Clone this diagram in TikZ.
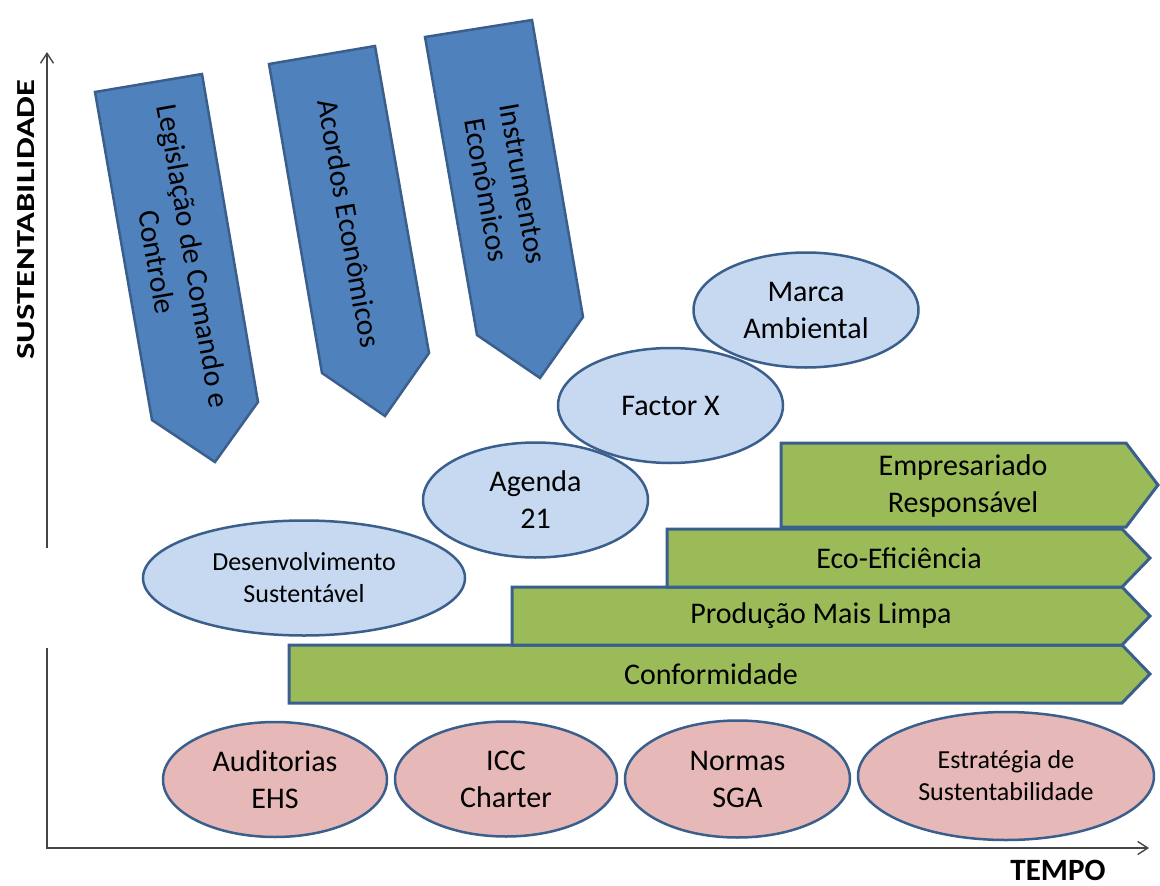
\documentclass[tikz,border=0pt]{standalone}
\usepackage{fontspec}
\setmainfont{Carlito}
\usetikzlibrary{shapes.geometric,arrows.meta}
\definecolor{edge}{HTML}{3A5F8C}
\definecolor{arrblue}{HTML}{4F81BD}
\definecolor{lblue}{HTML}{C6D9F1}
\definecolor{lpink}{HTML}{E6B9B8}
\definecolor{lgreen}{HTML}{9BBB59}
\definecolor{axisgray}{HTML}{454545}
\newcommand\fbig{\fontsize{30}{37}\selectfont}
\newcommand\fsml{\fontsize{26}{32}\selectfont}
\tikzset{
  ellbase/.style={ellipse, draw=edge, line width=2.5pt, inner sep=0pt, align=center, font=\fbig},
  blueell/.style={ellbase, fill=lblue},
  pinkell/.style={ellbase, fill=lpink},
  downarrow/.style={draw=edge, fill=arrblue, line width=2.5pt, line join=miter},
  greenbar/.style={draw=edge, fill=lgreen, line width=3pt, line join=miter},
  lbl/.style={font=\fbig, align=center, inner sep=0pt},
  axisline/.style={draw=axisgray, line width=1.6pt},
  axistip/.style={-{Straight Barb[length=10pt,width=13pt,line width=1.4pt]}},
}
\begin{document}
\begin{tikzpicture}[x=1pt,y=-1pt]
\useasboundingbox (0,0) rectangle (1160,886);

% axes
\coordinate (orig) at (47,849);
\coordinate (ylow) at (47,648);
\coordinate (yhigh) at (47,548);
\coordinate (ytop) at (47,52);
\coordinate (xstart) at (48,848);
\coordinate (xend) at (1149,848);
\draw[axisline] (orig) -- (ylow);
\draw[axisline,axistip] (yhigh) -- (ytop);
\draw[axisline,axistip] (xstart) -- (xend);
\node[font=\bfseries\fontsize{26}{30}\selectfont, rotate=90, inner sep=0pt] (ylabel) at (26.5,219.5) {\scalebox{1.33}[1]{SUSTENTABILIDADE}};
\node[font=\bfseries\fontsize{31}{36}\selectfont, inner sep=0pt] (xlabel) at (1058,870) {TEMPO};

% blue down arrows
\draw[downarrow] (95,92) -- (202,74) -- (258,402) -- (215,462) -- (152,420) -- cycle;
\draw[downarrow] (269,64) -- (375,46) -- (429,353) -- (385,416) -- (322,373) -- cycle;
\draw[downarrow] (425,37) -- (532,20) -- (583,317) -- (540,378) -- (477,335) -- cycle;
\node[lbl, rotate=-80] (leg) at (175.5,259) {Legislação de Comando e\\Controle};
\node[lbl, rotate=-80] (aco) at (349.5,223.5) {Acordos Econômicos};
\node[lbl, rotate=-80] (ins) at (504.5,187) {Instrumentos\\Econômicos};

% light blue ellipses
\node[blueell, minimum width=225pt, minimum height=115pt] (marca) at (806,310) {Marca\\Ambiental};
\node[blueell, minimum width=225pt, minimum height=115pt] (factor) at (670.5,405.5) {Factor X};
\node[blueell, minimum width=225pt, minimum height=115pt] (agenda) at (535.5,500) {Agenda\\21};
\node[blueell, minimum width=322pt, minimum height=115pt, font=\fsml] (desenv) at (304,578) {Desenvolvimento\\Sustentável};

% green bars
\draw[greenbar] (289,645) -- (1122,645) -- (1150,674) -- (1122,703) -- (289,703) -- cycle;
\draw[greenbar] (512,587) -- (1122,587) -- (1150,616) -- (1122,645) -- (512,645) -- cycle;
\draw[greenbar] (667,529) -- (1122,529) -- (1150,558) -- (1122,587) -- (667,587) -- cycle;
\draw[greenbar] (781,443) -- (1126,443) -- (1158,485) -- (1126,527) -- (781,527) -- cycle;
\node[lbl] (conf) at (711,674) {Conformidade};
\node[lbl] (prod) at (821,616) {Produção Mais Limpa};
\node[lbl] (eco) at (899,558) {Eco-Eficiência};
\node[lbl] (emp) at (963,486) {Empresariado\\Responsável};

% pink ellipses
\node[pinkell, minimum width=224pt, minimum height=115pt] (aud) at (275,779.5) {Auditorias\\EHS};
\node[pinkell, minimum width=222pt, minimum height=115pt] (icc) at (506,779) {ICC\\Charter};
\node[pinkell, minimum width=225pt, minimum height=117pt] (normas) at (737.5,779) {Normas\\SGA};
\node[pinkell, minimum width=296pt, minimum height=128pt, font=\fsml] (estr) at (1006,776) {Estratégia de\\Sustentabilidade};
\end{tikzpicture}
\end{document}
